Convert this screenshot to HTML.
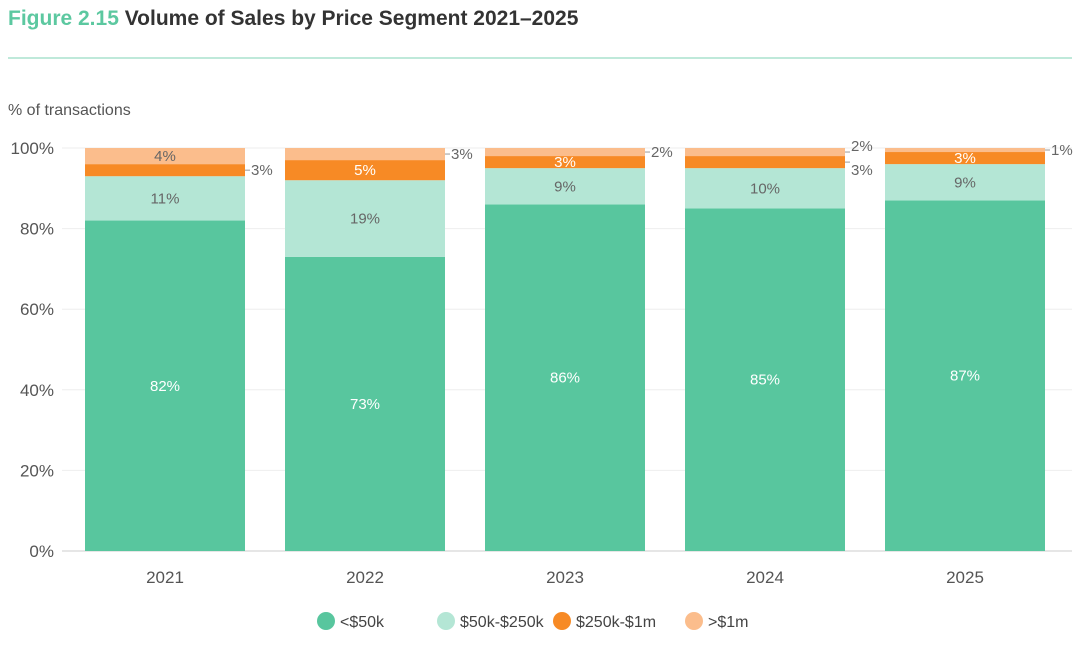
<!DOCTYPE html>
<html><head><meta charset="utf-8"><style>
body{margin:0;background:#fff;font-family:"Liberation Sans",sans-serif;}
svg text{font-family:"Liberation Sans",sans-serif;}
</style></head><body>
<svg id="c" width="1080" height="645" xmlns="http://www.w3.org/2000/svg">
<text x="8" y="25" font-size="21" font-weight="bold" fill="#5cc8a0">Figure 2.15 <tspan fill="#333">Volume of Sales by Price Segment 2021–2025</tspan></text>
<line x1="8" y1="58" x2="1072" y2="58" stroke="#7fd3b4" stroke-width="1"/>
<text x="8" y="115" font-size="16" fill="#555">% of transactions</text>
<g id="grid"></g><g id="bars"></g><g id="legend"></g>
</svg>
<script>
const years=["2021","2022","2023","2024","2025"];
const under50k=[82,73,86,85,87];
const k50to250=[11,19,9,10,9];
const k250to1m=[3,5,3,3,3];
const over1m=[4,3,2,2,1];
const seriesNames=["<$50k","$50k-$250k","$250k-$1m",">$1m"];
const yTicks=[0,20,40,60,80,100];
const colors=["#58c69e","#b4e6d5","#f78a25","#fbbd8c"];
const textCols=["#fff","#666","#fff","#666"];
const NS="http://www.w3.org/2000/svg";
const y=v=>551-v*4.03;
const x=i=>85+i*200;
const bw=160;
function mk(t,a,p){const e=document.createElementNS(NS,t);for(const k in a)e.setAttribute(k,a[k]);p.appendChild(e);return e;}
const grid=document.getElementById('grid'),bars=document.getElementById('bars'),leg=document.getElementById('legend');
yTicks.forEach(t=>{
 const l=mk('line',{x1:62,x2:1072,y1:y(t),y2:y(t),stroke:t==0?'#ccc':'#eee'},grid);
 
 
 const tx=mk('text',{x:54,y:y(t)+6,'font-size':17,fill:'#555','text-anchor':'end'},grid);
 tx.textContent=t+'%';
 
 
});
const series=[under50k,k50to250,k250to1m,over1m];
years.forEach((yr,i)=>{
 let cum=0;
 const outs=[];
 series.forEach((s,j)=>{
  const v=s[i];
  const r=mk('rect',{x:x(i),y:y(cum+v),width:bw,height:v*4.03,fill:colors[j]},bars);
  
  
  const mid=y(cum+v/2);
  let inside=j==3 ? v>=4 : v>=3;
  if(j==2 && (i==0||i==3)) inside=false;
  if(inside){
   const t=mk('text',{x:x(i)+bw/2,y:mid+5,'font-size':15,fill:textCols[j],'text-anchor':'middle'},bars);
   t.textContent=v+'%';
   
   
  } else outs.push({v,mid,j});
  cum+=v;
 });
 outs.forEach((o,k)=>{
  let ly=o.mid;
  if(outs.length>1) ly=o.mid+(k==0?8:-6);
  mk('line',{x1:x(i)+bw,x2:x(i)+bw+5,y1:o.mid,y2:o.mid,stroke:'#999'},bars);
  const t=mk('text',{x:x(i)+bw+6,y:ly+5,'font-size':15,fill:'#666'},bars);
  t.textContent=o.v+'%';
  
  
 });
 const xl=mk('text',{x:x(i)+bw/2,y:583,'font-size':17,fill:'#555','text-anchor':'middle'},bars);
 xl.textContent=yr;
 
 
});
const lx=[326,446,562,694];
seriesNames.forEach((n,j)=>{
 const g=mk('g',{},leg);
 
 
 mk('circle',{cx:lx[j],cy:621,r:9,fill:colors[j]},g);
 const t=mk('text',{x:lx[j]+14,y:627,'font-size':16,fill:'#444'},g);
 t.textContent=n;
});
</script>
</body></html>
